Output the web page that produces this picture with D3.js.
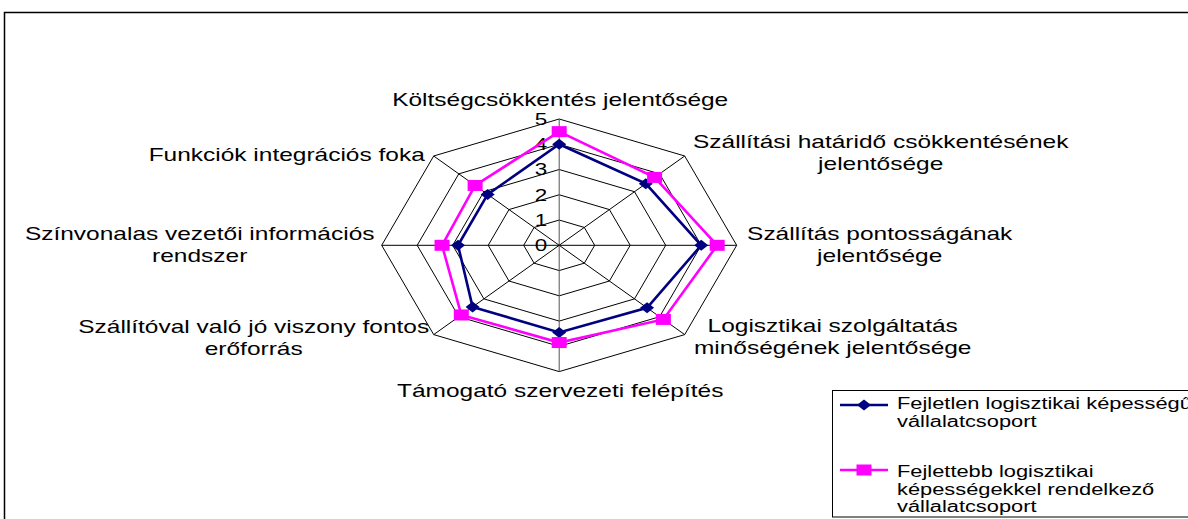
<!DOCTYPE html>
<html><head><meta charset="utf-8">
<script src="https://cdn.jsdelivr.net/npm/d3@7"></script>
<style>
html,body{margin:0;padding:0;background:#fff;overflow:hidden}
text{font-family:"Liberation Sans",Arial,sans-serif;fill:#000}
</style></head>
<body><svg id="c" width="1188" height="519"></svg>
<script>
// ---- data ----
const categories = [
  ["Költségcsökkentés jelentősége"],
  ["Szállítási határidő csökkentésének","jelentősége"],
  ["Szállítás pontosságának","jelentősége"],
  ["Logisztikai szolgáltatás","minőségének jelentősége"],
  ["Támogató szervezeti felépítés"],
  ["Szállítóval való jó viszony fontos","erőforrás"],
  ["Színvonalas vezetői információs","rendszer"],
  ["Funkciók integrációs foka"]
];
const seriesNames = [
  ["Fejletlen logisztikai képességű","vállalatcsoport"],
  ["Fejlettebb logisztikai","képességekkel rendelkező","vállalatcsoport"]
];
const fejletlen = [4.0, 3.45, 4.0, 3.5, 3.45, 3.45, 2.85, 2.85];
const fejlettebb = [4.5, 3.8, 4.45, 4.15, 3.85, 3.9, 3.3, 3.35];
const tickValues = [0,1,2,3,4,5];
const colors = ["#000080","#FF00FF"];

// ---- layout ----
const cx = 559.2, cy = 245.3, RX = 177.5, RY = 126.3, SX = 1.4;
const rX = d3.scaleLinear().domain([0,5]).range([0,RX]);
const rY = d3.scaleLinear().domain([0,5]).range([0,RY]);
const n = categories.length;
const ang = i => i*2*Math.PI/n;
const px = (i,v) => cx + rX(v)*Math.sin(ang(i));
const py = (i,v) => cy - rY(v)*Math.cos(ang(i));

const svg = d3.select("#c");
// outer frame
svg.append("rect").attr("x",4.5).attr("y",12.5).attr("width",1300).attr("height",600)
  .attr("fill","none").attr("stroke","#000").attr("stroke-width",1.5);

const g = svg.append("g");
// rings
tickValues.filter(t=>t>0).forEach(t=>{
  g.append("polygon")
    .attr("points", d3.range(n).map(i=>[px(i,t),py(i,t)].join(",")).join(" "))
    .attr("fill","none").attr("stroke","#000").attr("stroke-width",1);
});
// spokes
d3.range(n).forEach(i=>{
  g.append("line").attr("x1",cx).attr("y1",cy).attr("x2",px(i,5)).attr("y2",py(i,5))
    .attr("stroke", i===0||i===4 ? "#555" : "#000").attr("stroke-width",1);
});
// tick labels
tickValues.forEach(t=>{
  g.append("text").attr("transform",`translate(${cx-12},${cy-rY(t)+5.8}) scale(${SX},1)`)
    .attr("text-anchor","end").style("font-size","16px").text(t);
});

// series
const line = d3.line().curve(d3.curveLinearClosed);
function drawSeries(vals, color, shape){
  const pts = vals.map((v,i)=>[px(i,v),py(i,v)]);
  g.append("path").attr("d",line(pts)).attr("fill","none")
    .attr("stroke",color).attr("stroke-width",2.6).attr("stroke-linejoin","miter");
  pts.forEach(p=>marker(g,p[0],p[1],color,shape));
}
function marker(sel,x,y,color,shape){
  if(shape==="diamond"){
    sel.append("path").attr("d",`M${x},${y-5.5}L${x+7},${y}L${x},${y+5.5}L${x-7},${y}Z`).attr("fill",color);
  } else {
    sel.append("rect").attr("x",x-7.5).attr("y",y-5.5).attr("width",15).attr("height",11).attr("fill",color);
  }
}
drawSeries(fejletlen, colors[0], "diamond");
drawSeries(fejlettebb, colors[1], "square");

// category labels (offsets from axis end point)
const labelOffsets = [[1,-13],[196,-8],[143,-5],[148,-3],[1,25],[-180,-2],[-182,-5],[-147,5]];
const lineH = 22;
categories.forEach((lines,i)=>{
  const x = px(i,5)+labelOffsets[i][0], y = py(i,5)+labelOffsets[i][1];
  lines.forEach((s,k)=>{
    g.append("text").attr("transform",`translate(${x},${y+k*lineH}) scale(${SX},1)`)
      .attr("text-anchor","middle").style("font-size","17.5px").text(s);
  });
});

// legend
const lg = svg.append("g");
lg.append("rect").attr("x",832.5).attr("y",390.5).attr("width",400).attr("height",126.5)
  .attr("fill","#fff").attr("stroke","#000").attr("stroke-width",1);
const legY = [405, 470];
const legTextY = [[409,427],[476.5,494.5,512]];
seriesNames.forEach((lines,si)=>{
  lg.append("line").attr("x1",840).attr("x2",888).attr("y1",legY[si]).attr("y2",legY[si])
    .attr("stroke",colors[si]).attr("stroke-width",2.6);
  marker(lg,864,legY[si],colors[si], si===0?"diamond":"square");
  lines.forEach((s,k)=>{
    lg.append("text").attr("transform",`translate(897,${legTextY[si][k]}) scale(${SX},1)`)
      .style("font-size","15.6px").text(s);
  });
});
</script></body></html>
